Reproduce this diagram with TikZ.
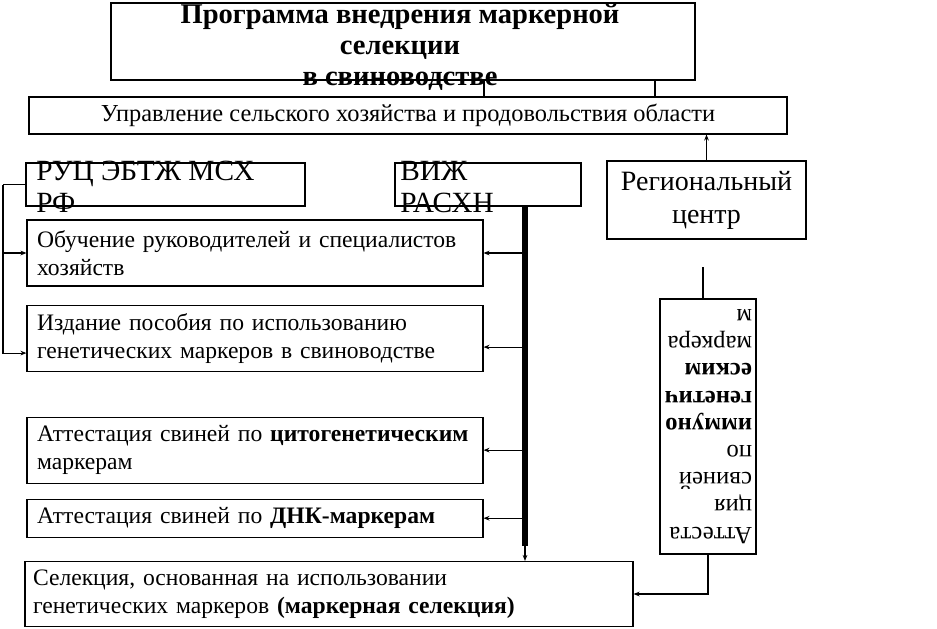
\documentclass[tikz,border=0pt]{standalone}
\usepackage{fontspec}
\setmainfont{Liberation Serif}
\usepackage{tikz}
\usetikzlibrary{arrows.meta,positioning,calc}
\tikzset{
  % Base box
  BX/.style={rectangle,draw,line width=0.8pt,inner sep=0pt},
  % Left aligned text box
  TX/.style={BX,align=left,inner xsep=7.5pt,
             font=\fontsize{17.7}{21}\selectfont},
  % Free text over a box
  FT/.style={inner sep=0pt,align=left,font=\fontsize{22}{24}\selectfont},
  % Arrow
  arr/.style={-{Stealth[length=4.5pt,width=3.5pt]},line width=0.8pt},
  ln/.style={line width=0.8pt},
  bus/.style={line width=4.5pt}
}

\begin{document}
\begin{tikzpicture}[x=0.75pt,y=-0.75pt]
  \useasboundingbox (0,0) rectangle (937,628);

  % top
  \node[BX,minimum width=438pt,minimum height=57.75pt] (prog) at (403,41.5) {};
  \node[inner sep=0pt,align=center,font=\fontsize{21.4}{23}\selectfont\bfseries] (progtxt) at (400,47)
    {Программа внедрения маркерной\\селекции\\в свиноводстве};
  \node[BX,minimum width=568.5pt,minimum height=27.75pt,font=\fontsize{18.3}{20}\selectfont] (upr) at (408,115.5)
    {Управление сельского хозяйства и продовольствия области};

  % second row
  \node[BX,minimum width=209.25pt,minimum height=32.25pt] (ruc) at (165.5,184.5) {};
  \node[FT,anchor=west] (ructxt) at (36,187) {РУЦ ЭБТЖ МСХ\\РФ};
  \node[BX,minimum width=139.5pt,minimum height=32.25pt] (vizh) at (488,184.5) {};
  \node[FT,anchor=west] (vizhtxt) at (400,187) {ВИЖ\\РАСХН};
  \node[BX,minimum width=149.25pt,minimum height=58.5pt,align=center,
        font=\fontsize{21}{24.75}\selectfont] (reg) at (706.5,200) {Региональный\\центр};

  % left column
  \node[TX,text width=327pt,minimum height=49.5pt] (obuch) at (255,253)
    {Обучение руководителей и специалистов\\хозяйств};
  \node[TX,text width=327pt,minimum height=49.5pt,below=13.5pt of obuch] (izd)
    {Издание пособия по использованию\\генетических маркеров в свиноводстве};
  \node[TX,text width=327pt,minimum height=49.5pt,below=33.75pt of izd] (cyto)
    {Аттестация свиней по \textbf{цитогенетическим}\\маркерам};
  \node[TX,text width=327pt,minimum height=28.5pt,below=11.25pt of cyto] (dnk)
    {Аттестация свиней по \textbf{ДНК-маркерам}};
  \node[TX,inner xsep=6pt,text width=444pt,minimum height=48.75pt] (sel) at (329,594)
    {Селекция, основанная на использовании\\генетических маркеров \textbf{(маркерная селекция)}};

  % rotated box
  \node[BX,rotate=180,minimum width=72pt,minimum height=191.25pt,text width=66pt,
        inner xsep=3pt,align=left,font=\fontsize{18.5}{20.4}\selectfont] (imm) at (708,426.5)
    {Аттеста\\ция\\свиней\\по\\\textbf{иммуно}\\\textbf{генетич}\\\textbf{еским}\\маркера\\м};

  % helper points
  \coordinate (k1) at (484,90);
  \coordinate (k2) at (655,90);
  \coordinate (lft) at (3,184.5);
  \coordinate (bus) at (525,546);
  \coordinate (rgt) at (703,267);
  \coordinate (izdr) at ([yshift=-6.75pt]izd.east);
  \coordinate (izdl) at ([yshift=-11.25pt]izd.west);

  \draw[ln] (prog.south -| k1) -- (upr.north -| k1);
  \draw[ln] (prog.south -| k2) -- (upr.north -| k2);
  \draw[arr] (reg.north) -- (reg.north |- upr.south);

  \draw[ln] (ruc.west) -- (lft);
  \draw[arr] (lft) |- (obuch.west);
  \draw[arr] (lft) |- (izdl);

  \draw[bus] (vizh.south -| bus) -- (bus);
  \draw[arr] (bus) -- (bus |- sel.north);
  \draw[arr] (bus |- obuch.east) -- (obuch.east);
  \draw[arr] (bus |- izdr) -- (izdr);
  \draw[arr] (bus |- cyto.east) -- (cyto.east);
  \draw[arr] (bus |- dnk.east) -- (dnk.east);

  \draw[ln] (rgt) -- (rgt |- imm.south);
  \draw[arr] (imm.north) |- (sel.east);
\end{tikzpicture}
\end{document}
